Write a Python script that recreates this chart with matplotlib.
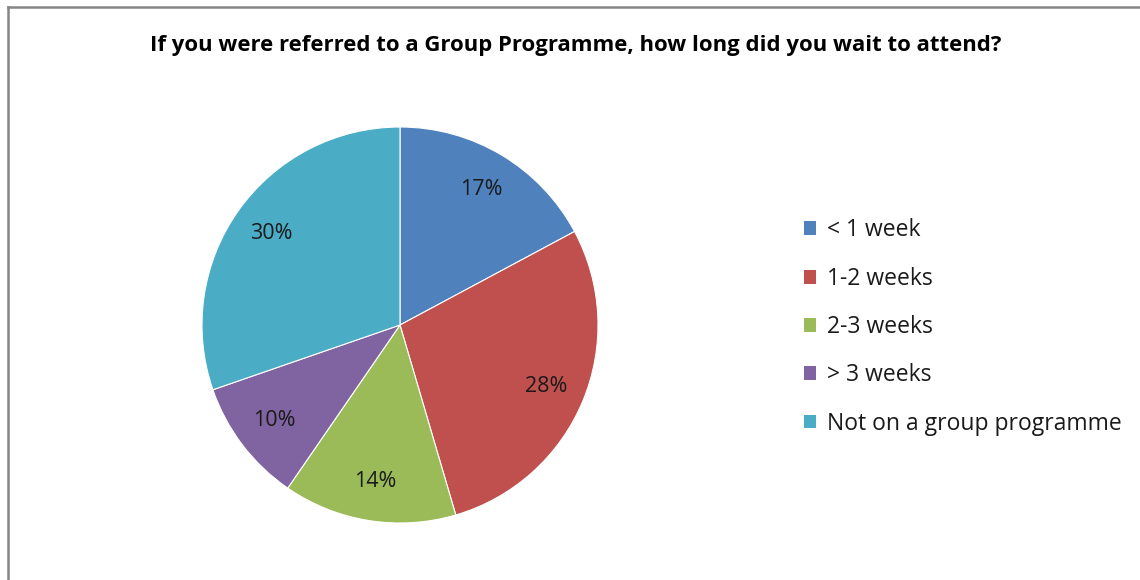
import matplotlib
matplotlib.use("Agg")
import matplotlib.pyplot as plt
from matplotlib.lines import Line2D
from matplotlib.patches import Patch

plt.rcParams["font.family"] = ["Open Sans", "DejaVu Sans"]

title = "If you were referred to a Group Programme, how long did you wait to attend?"
categories = ["< 1 week", "1-2 weeks", "2-3 weeks", "> 3 weeks", "Not on a group programme"]
values = [17, 28, 14, 10, 30]
colors = ["#4F81BD", "#C0504D", "#9BBB59", "#8064A2", "#4BACC6"]

W, H = 1140, 580
fig = plt.figure(figsize=(W / 100, H / 100), dpi=100)

# pie axes: centre (400, 325) px, radius ~198 px
cx, cy, r = 400, 325, 198
ax = fig.add_axes([(cx - r) / W, (H - cy - r) / H, 2 * r / W, 2 * r / H])
total = sum(values)
wedges, _, autotexts = ax.pie(values, colors=colors, startangle=90, counterclock=False,
                              autopct=lambda p: f"{p * total / 100:.0f}%", pctdistance=0.8,
                              wedgeprops=dict(edgecolor="white", linewidth=0.8),
                              textprops=dict(fontsize=15.5, color="#1a1a1a"))
ax.set_xlim(-1, 1)
ax.set_ylim(-1, 1)
ax.set_aspect("equal")

fig.text(576 / W, 1 - 45 / H, title, ha="center", va="center", fontsize=15.9,
         fontweight="bold", color="black")

handles = [Patch(facecolor=c, edgecolor="none") for c in colors]
fig.legend(handles, categories, loc="center left", bbox_to_anchor=(783 / W, 1 - 327 / H),
           frameon=False, fontsize=16.5, handlelength=0.55, handleheight=0.55,
           handletextpad=0.45, labelspacing=1.06, labelcolor="#1a1a1a")

# chart frame (top and left edges visible)
fig.add_artist(Line2D([8 / W, 1], [1 - 7 / H, 1 - 7 / H], transform=fig.transFigure,
                      color="#858585", lw=1.8))
fig.add_artist(Line2D([8 / W, 8 / W], [0, 1 - 7 / H], transform=fig.transFigure,
                      color="#858585", lw=1.8))

fig.savefig("out.png", dpi=100)
